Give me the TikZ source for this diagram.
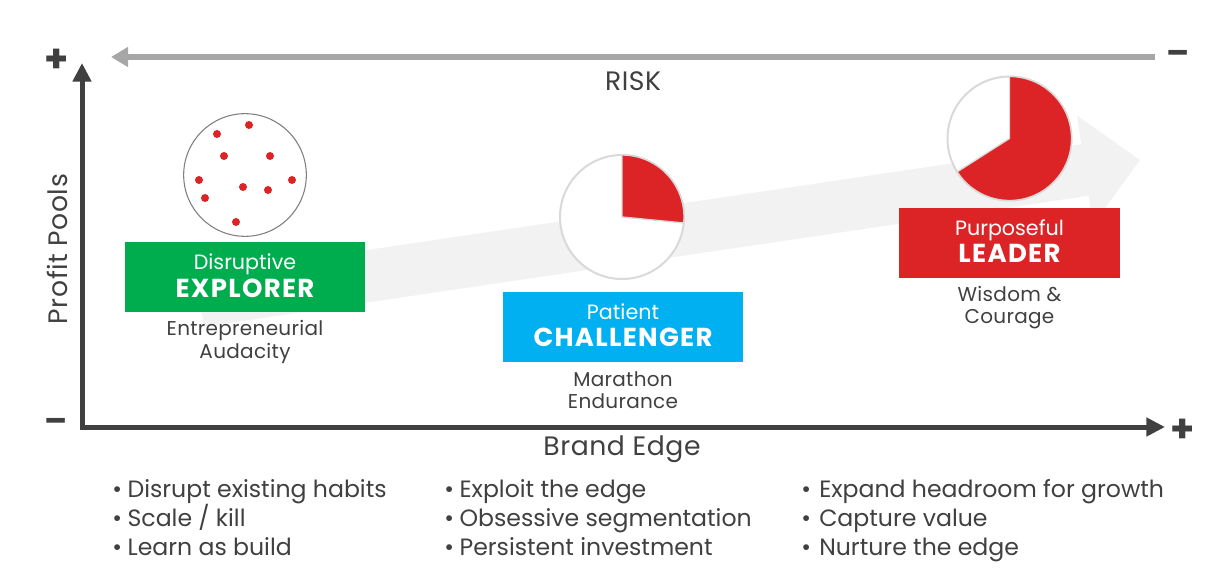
\documentclass[tikz,border=0pt]{standalone}
\usepackage{fontspec}
\setmainfont{Poppins}
\usetikzlibrary{arrows.meta}
\definecolor{txt}{HTML}{404040}
\definecolor{axisc}{HTML}{404040}
\definecolor{riskc}{HTML}{A6A6A6}
\definecolor{bandc}{HTML}{F2F2F2}
\definecolor{greenc}{HTML}{00AD4E}
\definecolor{bluec}{HTML}{00B0F0}
\definecolor{redc}{HTML}{DC2426}
\definecolor{ringc}{HTML}{7F7F7F}
\definecolor{piec}{HTML}{D9D9D9}
\newcommand{\bul}{\makebox[11.5pt][l]{•}}
\newcommand{\bulw}{\makebox[13.5pt][l]{•}}
\begin{document}
\begin{tikzpicture}[x=0.75pt,y=0.75pt,
  lbl/.style={text=txt, inner sep=0pt, anchor=base},
  axislbl/.style={lbl, font=\fontsize{20}{24}\selectfont\addfontfeature{LetterSpace=2}},
  plussign/.style={text=txt, inner sep=0pt, font=\fontsize{29}{32}\selectfont\bfseries},
  minussign/.style={text=txt, inner sep=0pt, font=\fontsize{25}{28}\selectfont\bfseries},
  sublbl/.style={lbl, font=\fontsize{15}{18}\selectfont\addfontfeature{LetterSpace=1.5}},
  boxtop/.style={text=white, inner sep=0pt, anchor=base, font=\fontsize{15.5}{18}\selectfont},
  boxbig/.style={text=white, inner sep=0pt, anchor=base, font=\fontsize{19.5}{22}\selectfont\bfseries\addfontfeature{LetterSpace=5}},
  rolebox/.style={rectangle, inner sep=0pt, minimum width=180pt, minimum height=52.5pt},
  bullets/.style={text=txt, inner sep=0pt, anchor=base west, align=left, font=\fontsize{17.7}{21.5}\selectfont},
  pie/.style={circle, draw=piec, line width=1.5pt, fill=white, minimum size=93pt, inner sep=0pt},
  wedge/.style={fill=redc, draw=piec, line width=1pt},
  dot/.style={circle, fill=redc, inner sep=0pt, minimum size=6pt},
  axis/.style={draw=axisc, line width=3.75pt, line join=miter},
  riskarrow/.style={draw=riskc, line width=4.5pt}
]
\useasboundingbox (0,0) rectangle (1226,-577);

% background trend arrow
\fill[bandc] (196.2,-275.3) -- (1081.2,-144.3) -- (1077,-115.6) -- (1140,-160)
  -- (1093,-224.4) -- (1088.8,-195.7) -- (203.8,-326.7) -- cycle;

% risk arrow
\coordinate (riskR) at (1155,-57);
\coordinate (riskL) at (111,-57);
\draw[riskarrow, -{Triangle[length=12.75pt, width=14.25pt]}] (riskR) -- (riskL);
\node[axislbl] (risk) at (633,-90.7) {RISK};
\node[minussign] (riskminus) at (1178,-57) {–};

% axes
\coordinate (ytip) at (82,-63);
\coordinate (orig) at (82,-427);
\coordinate (xtip) at (1165,-427);
\draw[axis, {Triangle[length=14pt, width=13.5pt]}-{Triangle[length=14pt, width=13.5pt]}] (ytip) |- (xtip);
\node[plussign] (yplus) at (57,-61) {+};
\node[minussign] (yminus) at (56,-425) {–};
\node[plussign] (xplus) at (1183,-431) {+};
\node[axislbl] (brand) at (622,-455.7) {Brand Edge};
\node[axislbl, rotate=90] (profit) at (67,-249) {Profit Pools};

% explorer
\node[circle, draw=ringc, line width=0.8pt, minimum size=92pt, inner sep=0pt] (expC) at (245,-175) {};
\foreach \px/\py [count=\i] in {249/125,217/134,224/156,270/156,199/180,243/187,268/190,292/180,205/198,236/222}
  \node[dot] (d\i) at (\px,-\py) {};
\node[rolebox, fill=greenc] (expB) at (245,-277) {};
\node[boxtop] (expT) at ([yshift=-28*0.75pt]expB.north) {Disruptive};
\node[boxbig] (expN) at ([yshift=-55.5*0.75pt]expB.north) {EXPLORER};
\node[sublbl] (expS1) at ([yshift=-23*0.75pt]expB.south) {Entrepreneurial};
\node[sublbl] (expS2) at ([yshift=-46*0.75pt]expB.south) {Audacity};

% challenger
\node[pie] (chaC) at (622,-217) {};
\fill[wedge] (chaC.center) -- ++(90:62) arc[start angle=90, end angle=-5.5, radius=62] -- cycle;
\node[rolebox, fill=bluec] (chaB) at (623,-327) {};
\node[boxtop] (chaT) at ([yshift=-28*0.75pt]chaB.north) {Patient};
\node[boxbig] (chaN) at ([yshift=-55*0.75pt]chaB.north) {CHALLENGER};
\node[sublbl] (chaS1) at ([yshift=-24*0.75pt]chaB.south) {Marathon};
\node[sublbl] (chaS2) at ([yshift=-46*0.75pt]chaB.south) {Endurance};

% leader
\node[pie] (leaC) at (1009.5,-138.5) {};
\fill[wedge] (leaC.center) -- ++(90:62) arc[start angle=90, end angle=-147.5, radius=62] -- cycle;
\node[rolebox, fill=redc, minimum width=165.75pt] (leaB) at (1009.5,-243) {};
\node[boxtop] (leaT) at ([yshift=-28*0.75pt]leaB.north) {Purposeful};
\node[boxbig] (leaN) at ([yshift=-55*0.75pt]leaB.north) {LEADER};
\node[sublbl] (leaS1) at ([yshift=-23*0.75pt]leaB.south) {Wisdom \&};
\node[sublbl] (leaS2) at ([yshift=-45*0.75pt]leaB.south) {Courage};

% bullets (node anchored at the baseline of the last line)
\node[bullets] (col1) at (112,-555) {\bul Disrupt existing habits\\\bul Scale / kill\\\bul Learn as build};
\node[bullets] (col2) at (444,-555) {\bul Exploit the edge\\\bul Obsessive segmentation\\\bul Persistent investment};
\node[bullets] (col3) at (801,-555) {\bulw Expand headroom for growth\\\bulw Capture value\\\bulw Nurture the edge};
\end{tikzpicture}
\end{document}
